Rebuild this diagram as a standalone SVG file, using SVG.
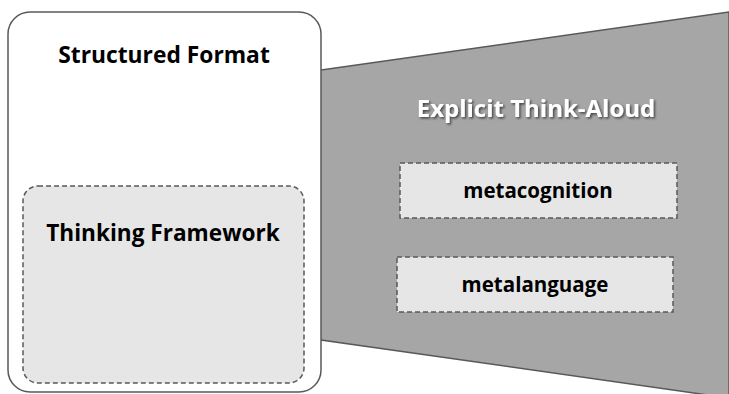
<svg xmlns="http://www.w3.org/2000/svg" width="729" height="394" viewBox="0 0 729 394">
<defs>
<style>
.t{font-family:"Open Sans","Liberation Sans",Arial,sans-serif;font-weight:bold;text-anchor:middle;fill:#000}
.dash{fill:#e6e6e6;stroke:#595959;stroke-width:1.5;stroke-dasharray:5 3}
</style>
<filter id="sh" x="-10%" y="-30%" width="130%" height="180%">
<feDropShadow dx="1.5" dy="1.5" stdDeviation="1" flood-color="#000" flood-opacity="0.6"/>
</filter>
</defs>
<g id="explicit-think-aloud">
<polygon points="300,73 729,12 729,398 300,337" fill="#a6a6a6" stroke="#595959" stroke-width="1.5"/>
<text class="t" x="536" y="117" font-size="24" style="fill:#fff" filter="url(#sh)">Explicit Think-Aloud</text>
</g>
<g id="structured-format">
<rect x="8" y="12" width="313" height="380" rx="22" fill="#fff" stroke="#595959" stroke-width="1.5"/>
<text class="t" x="164" y="63" font-size="22.8">Structured Format</text>
</g>
<g id="thinking-framework">
<rect class="dash" x="23" y="186" width="281" height="197" rx="15"/>
<text class="t" x="163" y="241" font-size="22.6">Thinking Framework</text>
</g>
<g id="metacognition">
<rect class="dash" x="400" y="163" width="277" height="55"/>
<text class="t" x="538" y="198" font-size="20.5">metacognition</text>
</g>
<g id="metalanguage">
<rect class="dash" x="397" y="257" width="276" height="55"/>
<text class="t" x="535" y="292" font-size="20.5">metalanguage</text>
</g>
<g id="connectors"/>
</svg>
